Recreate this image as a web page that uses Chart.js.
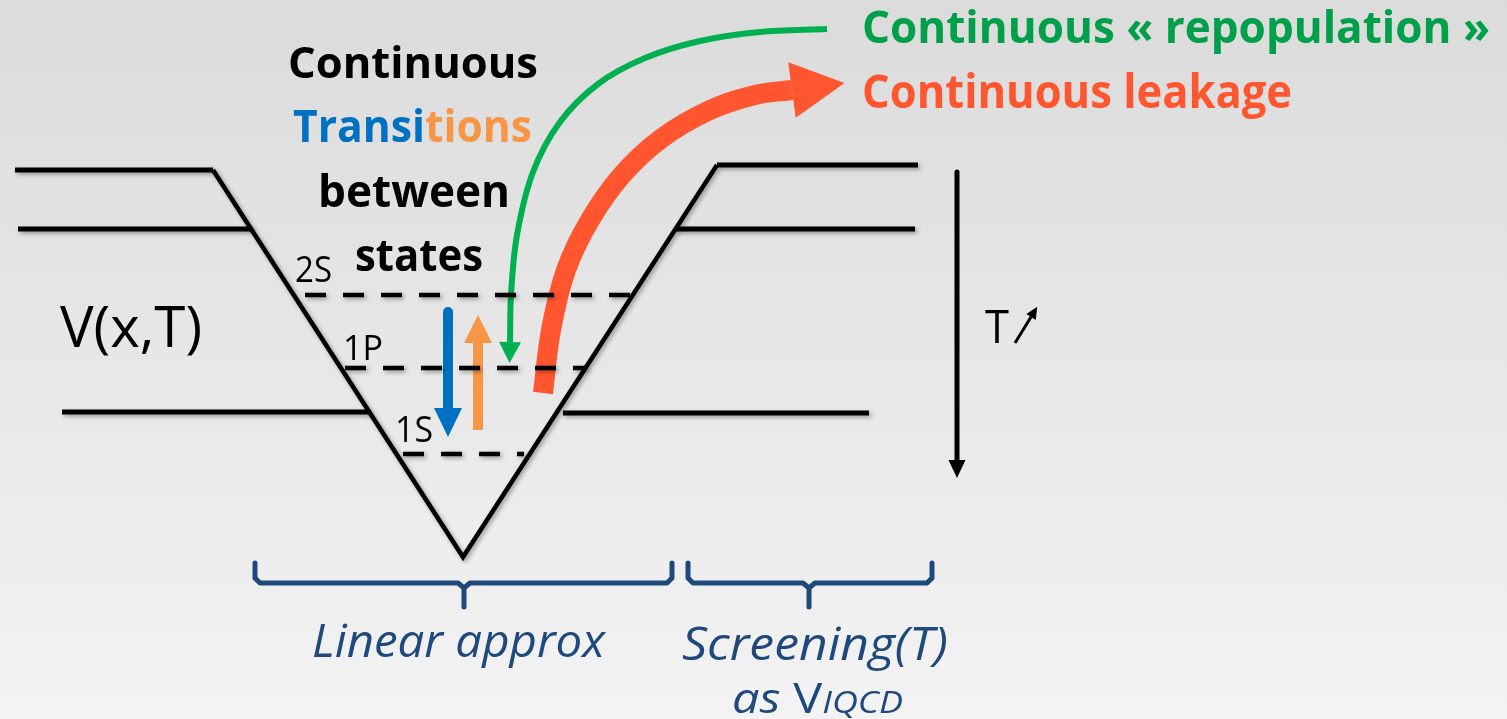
<!DOCTYPE html>
<html lang="en">
<head>
<meta charset="UTF-8">
<title>Continuous transitions in V(x,T)</title>
<script src="https://cdn.jsdelivr.net/npm/chart.js"></script>
<style>
    html, body { margin: 0; padding: 0; overflow: hidden; }
    #wrap { width: 1507px; height: 719px; }
</style>
</head>
<body>
<div id="wrap"><canvas id="diagram"></canvas></div>
<script>
// picture units: x to the right, y downwards (y axis is reversed)
var wellV = [{x:213,y:170},{x:463,y:557},{x:717,y:165}];
var leftLevels = [
    [{x:15,y:170},{x:213,y:170}],
    [{x:18,y:229},{x:251,y:229}],
    [{x:62,y:412},{x:369,y:412}]
];
var rightLevels = [
    [{x:717,y:165},{x:918,y:165}],
    [{x:676,y:229},{x:915,y:229}],
    [{x:563,y:413},{x:869,y:413}]
];

// bound states inside the well
var stateNames = ['2S', '1P', '1S'];
var stateLevels = [
    [{x:305,y:295},{x:633,y:295}],
    [{x:345,y:368},{x:587,y:368}],
    [{x:403,y:454},{x:524,y:454}]
];

// transitions, repopulation and leakage (last point = where the arrow head starts)
var downTransition = [{x:448,y:312},{x:448,y:408}];
var upTransition = [{x:478,y:430},{x:478,y:343}];
var repopulation = [{x:827,y:29},{x:760,y:32},{x:700,y:41},{x:645,y:58},{x:598,y:84},{x:560,y:122},{x:533,y:172},{x:517,y:235},{x:511,y:295},{x:510,y:342}];
var leakage = [{x:543,y:393},{x:551,y:330},{x:566,y:270},{x:590,y:220},{x:622,y:175},{x:662,y:138},{x:710,y:110},{x:755,y:95},{x:792,y:90}];
var tempAxis = [{x:957,y:172},{x:957,y:460}];
var tempRise = [{x:1015,y:343},{x:1031,y:317}];

// braces under the well
var braceLinear = [
    [{x:255,y:563},{x:255,y:578},{x:260,y:583},{x:458,y:583},{x:464,y:588},{x:464,y:607}],
    [{x:672,y:563},{x:672,y:578},{x:667,y:583},{x:470,y:583},{x:464,y:588}]
];
var braceScreening = [
    [{x:688,y:563},{x:688,y:578},{x:693,y:583},{x:803,y:583},{x:809,y:588},{x:809,y:607}],
    [{x:932,y:563},{x:932,y:578},{x:927,y:583},{x:815,y:583},{x:809,y:588}]
];

var blue = '#0070c0', orange = '#f79646', green = '#00b050', greenText = '#00a04b',
    red = '#ff5630', navy = '#1f497d';

// text labels: runs of [text, colour, size, optional style]
var labels = [
    {runs:[['Continuous','#000',43]], x:288, y:78, w:250, f:'bold'},
    {runs:[['Transi',blue,44],['tions',orange,44]], x:293, y:142, w:239, f:'bold'},
    {runs:[['between','#000',44]], x:318, y:207, w:192, f:'bold'},
    {runs:[['states','#000',44]], x:355, y:271, w:128, f:'bold'},
    {runs:[[stateNames[0],'#000',37]], x:295, y:282, w:37, f:''},
    {runs:[[stateNames[1],'#000',35]], x:343, y:360, w:40, f:''},
    {runs:[[stateNames[2],'#000',37]], x:395, y:442, w:38, f:''},
    {runs:[['V(x,T)','#000',56]], x:60, y:347, w:142, f:''},
    {runs:[['T','#000',46]], x:985, y:343, w:24, f:''},
    {runs:[['Continuous \u00ab repopulation \u00bb',greenText,45]], x:862, y:43, w:628, f:'bold'},
    {runs:[['Continuous leakage',red,46]], x:862, y:108, w:430, f:'bold'},
    {runs:[['Linear approx',navy,46]], x:312, y:657, w:293, f:'italic'},
    {runs:[['Screening(T)',navy,45]], x:682, y:660, w:266, f:'italic'},
    {runs:[['as ',navy,42],['V',navy,42,''],['IQCD',navy,31]], x:732, y:713, w:171, f:'italic'}
];

function lineSet(pts, color, width, extra) {
    var ds = {data: pts, showLine: true, borderColor: color, backgroundColor: color,
        borderWidth: width, pointRadius: 0, fill: false, clip: false, tension: 0,
        borderCapStyle: 'butt', borderJoinStyle: 'round'};
    for (var k in extra) ds[k] = extra[k];
    return ds;
}

var datasets = [];
datasets.push(lineSet(wellV, '#000', 4.5, {shadow: true, borderJoinStyle: 'miter'}));
leftLevels.concat(rightLevels).forEach(function (l) {
    datasets.push(lineSet(l, '#000', 5, {shadow: true}));
});
stateLevels.forEach(function (l) {
    datasets.push(lineSet(l, '#000', 4.5, {shadow: true, borderDash: [21, 17]}));
});
braceLinear.concat(braceScreening).forEach(function (l) {
    datasets.push(lineSet(l, navy, 5, {borderCapStyle: 'round'}));
});
datasets.push(lineSet(downTransition, blue, 10, {head: {len: 29, w: 28}}));
datasets.push(lineSet(upTransition, orange, 10, {head: {len: 28, w: 28}}));
datasets.push(lineSet(repopulation, green, 6, {tension: 0.35, head: {len: 21, w: 22}}));
datasets.push(lineSet(leakage, red, 20, {tension: 0.35, head: {len: 53, w: 56}}));
datasets.push(lineSet(tempAxis, '#000', 5, {head: {len: 18, w: 17}}));
datasets.push(lineSet(tempRise, '#000', 3, {head: {len: 12, w: 11}}));

function fontOf(lb, r) {
    var style = r.length > 3 ? r[3] : lb.f;
    return style + ' ' + r[2] + 'px "Open Sans"';
}

var diagramPlugin = {
    id: 'diagram',
    beforeDraw: function (chart) {
        var c = chart.ctx;
        var g = c.createLinearGradient(0, 0, 0, chart.height);
        g.addColorStop(0, '#dbdbdb');
        g.addColorStop(1, '#f3f3f3');
        c.save();
        c.fillStyle = g;
        c.fillRect(0, 0, chart.width, chart.height);
        c.restore();
    },
    beforeDatasetDraw: function (chart, args) {
        var ds = chart.data.datasets[args.index];
        if (ds.shadow) {
            var c = chart.ctx;
            c.shadowColor = 'rgba(0,0,0,0.35)';
            c.shadowBlur = 4;
            c.shadowOffsetX = 2;
            c.shadowOffsetY = 2;
        }
    },
    afterDatasetDraw: function (chart, args) {
        var c = chart.ctx;
        c.shadowColor = 'transparent';
        c.shadowBlur = 0;
        c.shadowOffsetX = 0;
        c.shadowOffsetY = 0;
        var ds = chart.data.datasets[args.index];
        if (!ds.head) return;
        var pts = chart.getDatasetMeta(args.index).data;
        var a = pts[pts.length - 2], b = pts[pts.length - 1];
        var dx = b.x - a.x, dy = b.y - a.y, d = Math.sqrt(dx * dx + dy * dy);
        dx /= d; dy /= d;
        var hw = ds.head.w / 2;
        c.save();
        c.fillStyle = ds.borderColor;
        c.beginPath();
        c.moveTo(b.x - dy * hw, b.y + dx * hw);
        c.lineTo(b.x + dx * ds.head.len, b.y + dy * ds.head.len);
        c.lineTo(b.x + dy * hw, b.y - dx * hw);
        c.closePath();
        c.fill();
        c.restore();
    },
    afterDatasetsDraw: function (chart) {
        var c = chart.ctx, sx = chart.scales.x, sy = chart.scales.y;
        labels.forEach(function (lb) {
            var total = 0;
            lb.runs.forEach(function (r) {
                c.font = fontOf(lb, r);
                total += c.measureText(r[0]).width;
            });
            var px = sx.getPixelForValue(lb.x), py = sy.getPixelForValue(lb.y);
            var k = (sx.getPixelForValue(lb.x + lb.w) - px) / total;
            c.save();
            c.translate(px, py);
            c.scale(k, 1);
            c.textBaseline = 'alphabetic';
            c.textAlign = 'left';
            var off = 0;
            lb.runs.forEach(function (r) {
                c.font = fontOf(lb, r);
                c.fillStyle = r[1];
                c.fillText(r[0], off, 0);
                off += c.measureText(r[0]).width;
            });
            c.restore();
        });
    }
};

new Chart(document.getElementById('diagram'), {
    type: 'scatter',
    data: {datasets: datasets},
    options: {
        responsive: true,
        maintainAspectRatio: false,
        animation: false,
        layout: {padding: 0},
        plugins: {legend: {display: false}, tooltip: {enabled: false}},
        scales: {
            x: {type: 'linear', min: 0, max: 1507, display: false},
            y: {type: 'linear', min: 0, max: 719, reverse: true, display: false}
        }
    },
    plugins: [diagramPlugin]
});
</script>
</body>
</html>
